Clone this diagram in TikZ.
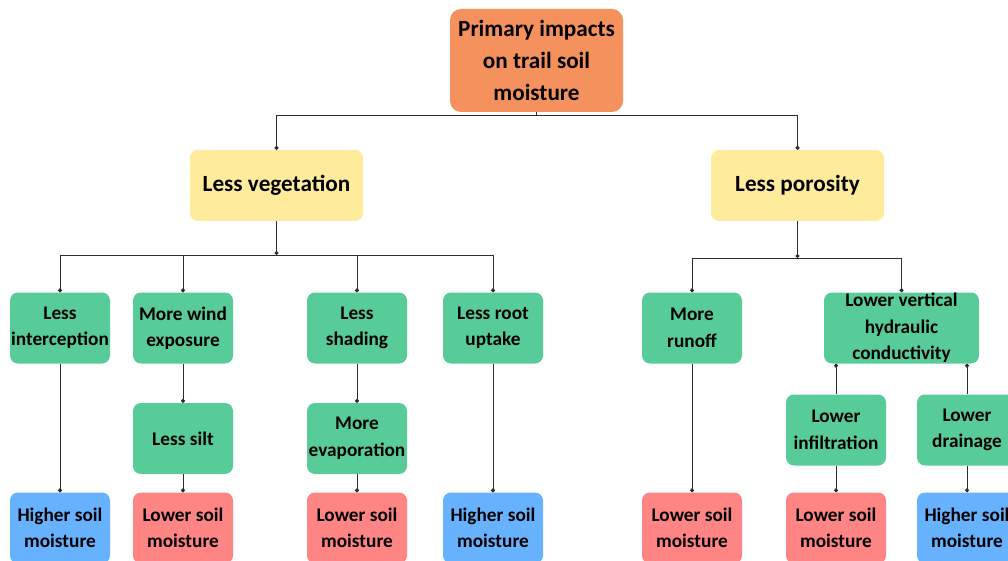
\documentclass[tikz,border=0pt]{standalone}
\usepackage{fontspec}
\setmainfont{Carlito}
\usetikzlibrary{arrows.meta}
\definecolor{topfill}{RGB}{245,145,92}
\definecolor{midfill}{RGB}{255,235,156}
\definecolor{stepfill}{RGB}{87,204,153}
\definecolor{lowfill}{RGB}{255,133,133}
\definecolor{highfill}{RGB}{102,178,255}
\definecolor{linkcol}{RGB}{45,45,45}

\begin{document}
\begin{tikzpicture}[x=1pt,y=-1pt]
  \clip (0,0) rectangle (1008,561);
  \tikzstyle{Box}=[rounded corners=8pt, align=center, inner sep=0pt,
    font=\bfseries\fontsize{19.3}{26.5}\selectfont,
    minimum width=100pt, minimum height=71pt]
  \tikzstyle{Step}=[Box, fill=stepfill]
  \tikzstyle{Low}=[Box, fill=lowfill]
  \tikzstyle{High}=[Box, fill=highfill]
  \tikzstyle{Link}=[draw=linkcol, line width=1pt, -{Circle[length=4pt]}]

  % top and second level
  \node[Box, fill=topfill, rounded corners=11pt, minimum width=173pt, minimum height=103pt,
        font=\bfseries\fontsize{23.2}{32}\selectfont] (impact) at (536.5,60.5)
        {Primary impacts\\on trail soil\\moisture};
  \node[Box, fill=midfill, minimum width=173pt, minimum height=71pt,
        font=\bfseries\fontsize{23.2}{28}\selectfont] (veg) at (276.5,185.5) {Less vegetation};
  \node[Box, fill=midfill, minimum width=173pt, minimum height=71pt,
        font=\bfseries\fontsize{23.2}{28}\selectfont] (por) at (797.5,185.5) {Less porosity};

  % first row
  \node[Step] (interc) at (60,328) {Less\\interception};
  \node[Step] (wind) at (183,328) {More wind\\exposure};
  \node[Step] (shade) at (357,328) {Less\\shading};
  \node[Step] (root) at (493,328) {Less root\\uptake};
  \node[Step] (runoff) at (692,328) {More\\runoff};
  \node[Step, minimum width=155pt] (hydro) at (901.5,328) {Lower vertical\\hydraulic\\conductivity};

  % second row
  \node[Step] (silt) at (183,438.5) {Less silt};
  \node[Step] (evap) at (357,438.5) {More\\evaporation};
  \node[Step] (infil) at (836,430) {Lower\\infiltration};
  \node[Step] (drain) at (967,430) {Lower\\drainage};

  % outcomes
  \node[High] (outA) at (60,528) {Higher soil\\moisture};
  \node[Low] (outB) at (183,528) {Lower soil\\moisture};
  \node[Low] (outC) at (357,528) {Lower soil\\moisture};
  \node[High] (outD) at (493,528) {Higher soil\\moisture};
  \node[Low] (outE) at (692,528) {Lower soil\\moisture};
  \node[Low] (outF) at (836,528) {Lower soil\\moisture};
  \node[High] (outG) at (967,528) {Higher soil\\moisture};

  \coordinate (vegbar) at (276.5,255);
  \coordinate (porbar) at (797.5,258);

  \draw[Link] (impact.south) -- ++(0,3) -| (veg.north);
  \draw[Link] (impact.south) -- ++(0,3) -| (por.north);

  \draw[Link] (veg.south) -- (vegbar);
  \draw[Link] (vegbar) -| (interc.north);
  \draw[Link] (vegbar) -| (wind.north);
  \draw[Link] (vegbar) -| (shade.north);
  \draw[Link] (vegbar) -| (root.north);

  \draw[Link] (por.south) -- (porbar);
  \draw[Link] (porbar) -| (runoff.north);
  \draw[Link] (porbar) -| (hydro.north);

  \draw[Link] (interc.south) -- (outA.north);
  \draw[Link] (wind.south) -- (silt.north);
  \draw[Link] (silt.south) -- (outB.north);
  \draw[Link] (shade.south) -- (evap.north);
  \draw[Link] (evap.south) -- (outC.north);
  \draw[Link] (root.south) -- (outD.north);
  \draw[Link] (runoff.south) -- (outE.north);
  \draw[Link] (infil.north) -- (infil.north |- hydro.south);
  \draw[Link] (drain.north) -- (drain.north |- hydro.south);
  \draw[Link] (infil.south) -- (outF.north);
  \draw[Link] (drain.south) -- (outG.north);
\end{tikzpicture}
\end{document}
